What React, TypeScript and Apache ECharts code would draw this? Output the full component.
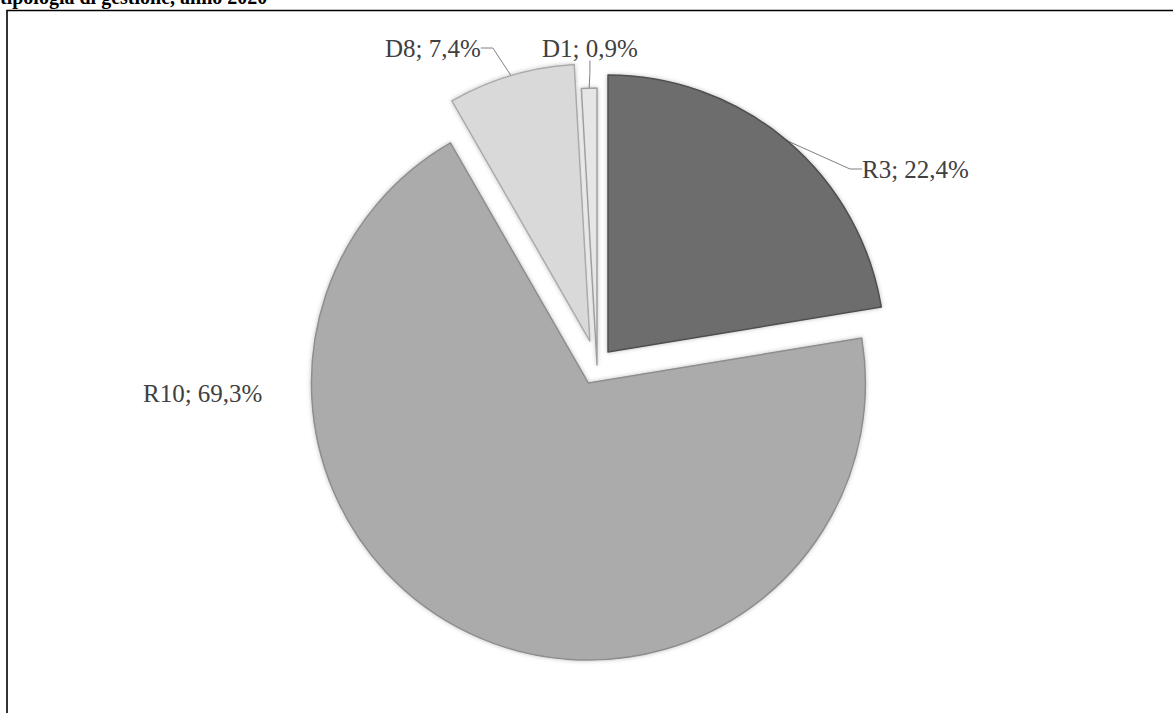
import React, { useEffect, useRef } from "react";
import * as echarts from "echarts";

const titleText = "tipologia di gestione, anno 2020";
const categories = ["R3", "R10", "D8", "D1"];
const shares = [22.4, 69.3, 7.4, 0.9];
const explodeOffsets = [17, 20, 25, 0];
const sliceColors = ["#6d6d6d", "#ababab", "#d9d9d9", "#e6e6e6"];
const sliceBorders = ["#505050", "#8e8e8e", "#ababab", "#a0a0a0"];
const showLeader = [true, false, true, true];
const labelAnchors: number[][] = [
  [862, 169],
  [143, 393],
  [385, 48],
  [542, 48],
];
const pieCenter = [597, 365];
const pieRadius = 277;

export default function App() {
  const ref = useRef<HTMLDivElement>(null);
  useEffect(() => {
    if (!ref.current) return;
    const chart = echarts.init(ref.current, undefined, { renderer: "svg" });
    const total = shares.reduce((a, b) => a + b, 0);
    let cum = 0;
    const series = categories.map((_, i) => {
      const mid = ((cum + shares[i] / 2) / total) * 2 * Math.PI;
      cum += shares[i];
      const cx = pieCenter[0] + explodeOffsets[i] * Math.sin(mid);
      const cy = pieCenter[1] - explodeOffsets[i] * Math.cos(mid);
      const data = categories.map((name, j) => {
        const own = j === i;
        return {
          name,
          value: shares[j],
          itemStyle: own
            ? {
                color: sliceColors[j],
                borderColor: sliceBorders[j],
                borderWidth: 1.5,
                shadowBlur: 4,
                shadowColor: "rgba(0,0,0,0.25)",
              }
            : { color: "rgba(0,0,0,0)", borderWidth: 0, opacity: 0 },
          label: { show: own },
          labelLine: { show: own && showLeader[j] },
        };
      });
      return {
        type: "pie",
        name: categories[i],
        center: [cx, cy],
        radius: [0, pieRadius],
        startAngle: 90,
        clockwise: true,
        silent: true,
        avoidLabelOverlap: false,
        emphasis: { disabled: true },
        label: {
          position: "outside",
          color: "#404040",
          fontFamily: "'Liberation Serif', 'Times New Roman', serif",
          fontSize: 25,
          formatter: (p: any) =>
            `${p.name}; ${Number(p.value).toFixed(1).replace(".", ",")}%`,
        },
        labelLine: {
          length: 10,
          length2: 12,
          lineStyle: { color: "#808080", width: 1 },
        },
        labelLayout: (params: any) => {
          if (params.dataIndex !== i) return {};
          const a = labelAnchors[i];
          return { x: a[0], y: a[1], align: "left", verticalAlign: "middle" };
        },
        data,
      };
    });
    chart.setOption({
      animation: false,
      backgroundColor: "#ffffff",
      graphic: [
        {
          type: "rect",
          shape: { x: 7, y: 10.5, width: 1200, height: 760 },
          style: { fill: "none", stroke: "#000000", lineWidth: 1.6 },
          z: 0,
        },
        {
          type: "text",
          style: {
            text: titleText,
            x: 0,
            y: -3,
            fill: "#000000",
            font: "bold 20px 'Liberation Serif', 'Times New Roman', serif",
            verticalAlign: "middle",
            align: "left",
          },
        },
      ],
      series,
    });
    return () => chart.dispose();
  }, []);
  return (
    <div
      ref={ref}
      style={{ position: "absolute", left: 0, top: 0, width: 1173, height: 713 }}
    />
  );
}
